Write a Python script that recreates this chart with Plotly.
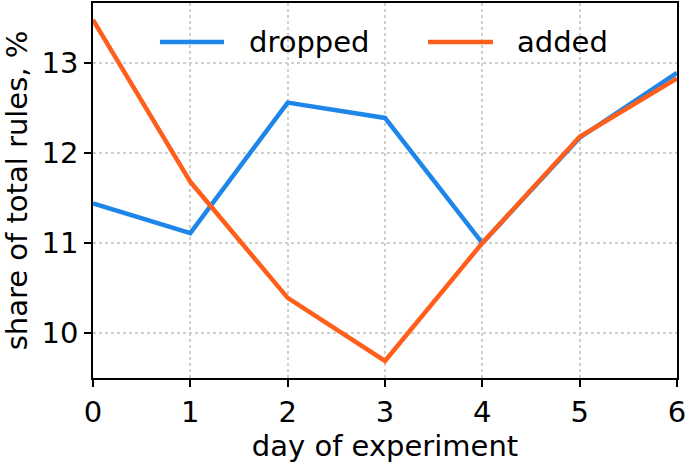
import plotly.graph_objects as go

days = [0, 1, 2, 3, 4, 5, 6]
dropped = [11.44, 11.11, 12.56, 12.39, 11.00, 12.17, 12.89]
added = [13.48, 11.68, 10.39, 9.69, 11.00, 12.18, 12.83]
series_names = ["dropped", "added"]
series_colors = ["#1E86E8", "#FF5F1A"]

FONT = "DejaVu Sans"
FS = 29
fig = go.Figure()
for name, vals, col in zip(series_names, [dropped, added], series_colors):
    fig.add_trace(go.Scatter(x=days, y=vals, mode="lines", name=name,
                             line=dict(color=col, width=4.5), showlegend=False))

# legend drawn as line samples + labels (paper coordinates)
leg_y = 0.896
leg_items = [(0.1147, 0.2243, 0.2637), (0.5736, 0.6849, 0.7226)]
for (x0, x1, xt), name, col in zip(leg_items, series_names, series_colors):
    fig.add_shape(type="line", xref="paper", yref="paper", x0=x0, x1=x1, y0=leg_y, y1=leg_y,
                  line=dict(color=col, width=4.5))
    fig.add_annotation(xref="paper", yref="paper", x=xt, y=leg_y, text=name, showarrow=False,
                       xanchor="left", yanchor="middle", font=dict(family=FONT, size=FS, color="black"))

axis_common = dict(showline=True, linecolor="black", linewidth=1.5, mirror=True,
                   ticks="outside", ticklen=7, tickwidth=1.5, tickcolor="black",
                   showgrid=True, gridcolor="#cfcfcf", gridwidth=1.5, griddash="dot",
                   zeroline=False, automargin=False, ticklabeloverflow="allow",
                   tickfont=dict(family=FONT, size=FS, color="black"))

fig.update_layout(
    width=685, height=463,
    margin=dict(l=93, r=8, t=3, b=85),
    paper_bgcolor="white", plot_bgcolor="white",
    font=dict(family=FONT, size=FS, color="black"),
    showlegend=False,
    xaxis=dict(range=[0, 6], tickvals=days, title=dict(text="day of experiment", standoff=4,
               font=dict(family=FONT, size=FS)), **axis_common),
    yaxis=dict(range=[9.5, 13.667], tickvals=[10, 11, 12, 13], title=dict(text="share of total rules, %",
               standoff=8, font=dict(family=FONT, size=FS)), **axis_common),
)
fig.write_html("out.html", config={"displayModeBar": False},
               post_script="document.body.style.margin='0';document.body.style.overflow='hidden';")
